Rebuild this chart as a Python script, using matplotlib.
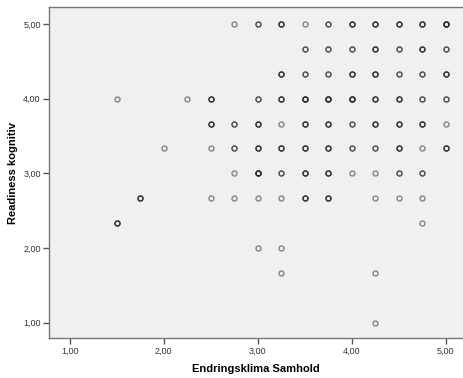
import numpy as np
import matplotlib
matplotlib.use('Agg')
import matplotlib.pyplot as plt
from matplotlib.ticker import FuncFormatter

# Endringsklima Samhold (x), Readiness kognitiv (y), number of cases at the point
samhold = [2.75, 3.0, 3.25, 3.5, 3.75, 4.0, 4.25, 4.5, 4.75, 5.0,
           3.5, 3.75, 4.0, 4.25, 4.5, 4.75, 5.0,
           3.25, 3.5, 3.75, 4.0, 4.25, 4.5, 4.75, 5.0,
           1.5, 2.25, 2.5, 3.0, 3.25, 3.5, 3.75, 4.0, 4.25, 4.5, 4.75, 5.0,
           2.5, 2.75, 3.0, 3.25, 3.5, 3.75, 4.0, 4.25, 4.5, 4.75, 5.0,
           2.0, 2.5, 2.75, 3.0, 3.25, 3.5, 3.75, 4.0, 4.25, 4.5, 4.75, 5.0,
           2.75, 3.0, 3.25, 3.5, 3.75, 4.0, 4.25, 4.5, 4.75,
           1.75, 2.5, 2.75, 3.0, 3.25, 3.5, 3.75, 4.25, 4.5, 4.75,
           1.5, 4.75,
           3.0, 3.25,
           3.25, 4.25,
           4.25]
kognitiv = [5.0] * 10 + [14 / 3] * 7 + [13 / 3] * 8 + [4.0] * 12 + [11 / 3] * 11 \
    + [10 / 3] * 12 + [3.0] * 9 + [8 / 3] * 10 + [7 / 3] * 2 + [2.0] * 2 \
    + [5 / 3] * 2 + [1.0]
antall = [1, 2, 3, 1, 2, 3, 3, 3, 3, 4,
          2, 2, 2, 3, 2, 3, 2,
          3, 2, 2, 3, 3, 2, 2, 3,
          1, 1, 3, 2, 3, 4, 4, 4, 3, 3, 2, 2,
          3, 2, 3, 1, 3, 3, 2, 3, 3, 3, 1,
          1, 1, 2, 3, 3, 3, 3, 2, 2, 3, 1, 3,
          1, 4, 2, 3, 3, 1, 1, 2, 2,
          3, 1, 1, 1, 1, 3, 3, 1, 1, 1,
          3, 1,
          1, 1,
          1, 1,
          1]

x = np.repeat(samhold, antall)
y = np.repeat(kognitiv, antall)

plt.rcParams['font.family'] = ['Liberation Sans', 'DejaVu Sans']

fig = plt.figure(figsize=(4.63, 3.78), dpi=100)
ax = fig.add_axes([49 / 463, 40 / 378, 414 / 463, 330.7 / 378])
ax.set_facecolor('#f0f0f0')

ax.plot(x, y, 'o', ms=3.6, mfc='none', mec='#1a1a1a', mew=1.0, alpha=0.5)

ax.set_xlim(0.78, 5.184)
ax.set_ylim(0.795, 5.224)
ax.set_xticks([1, 2, 3, 4, 5])
ax.set_yticks([1, 2, 3, 4, 5])
fmt = FuncFormatter(lambda v, p: f"{v:.2f}".replace('.', ','))
ax.xaxis.set_major_formatter(fmt)
ax.yaxis.set_major_formatter(fmt)
ax.tick_params(direction='out', length=4, width=1, color='#555555',
               labelsize=6.5, labelcolor='#333333', pad=2)

for s in ['left', 'bottom', 'top']:
    ax.spines[s].set_color('#777777')
    ax.spines[s].set_linewidth(1.0)
ax.spines['right'].set_visible(False)

ax.set_xlabel('Endringsklima Samhold', fontsize=8, fontweight='bold', labelpad=6)
ax.set_ylabel('Readiness kognitiv', fontsize=8, fontweight='bold', labelpad=4)

fig.savefig('out.png', dpi=100)
